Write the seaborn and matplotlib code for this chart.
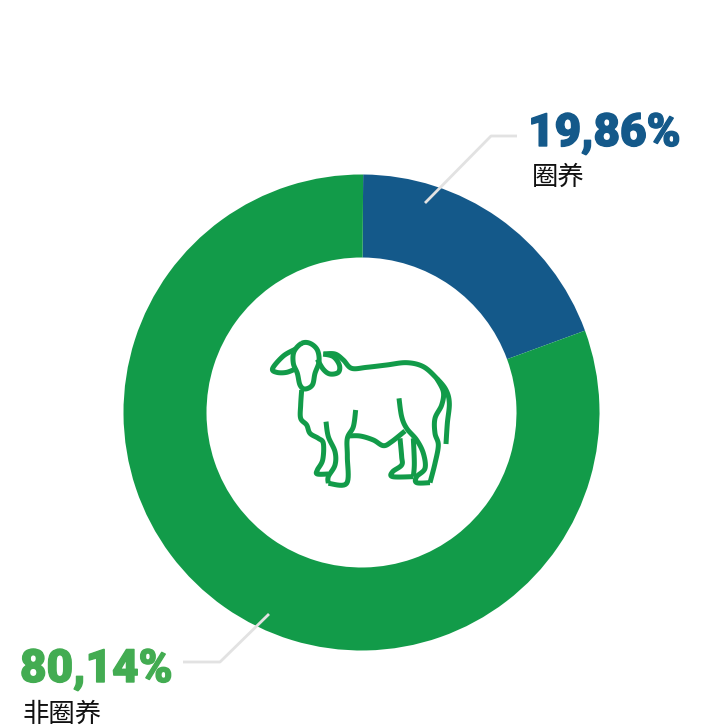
import numpy as np
import matplotlib
matplotlib.use("Agg")
import matplotlib.pyplot as plt
import matplotlib.patheffects as pe
import seaborn as sns

categories = ["圈养", "非圈养"]
values = [19.3, 80.7]  # shares as drawn in the picture
value_labels = ["19,86%", "80,14%"]
slice_colors = ["#14598A", "#129B49"]
label_colors = ["#14598A", "#43AC52"]

sns.set_theme(style="white")
plt.rcParams["font.family"] = ["Noto Sans CJK SC", "DejaVu Sans"]

fig = plt.figure(figsize=(7.02, 7.28), dpi=100)
ax = fig.add_axes([0, 0, 1, 1])
ax.pie(values, colors=sns.color_palette(slice_colors), startangle=-89.6, counterclock=True,
       center=(361.5, 412.5), radius=238, frame=False,
       wedgeprops=dict(width=83, linewidth=0))
ax.set_xlim(0, 702)
ax.set_ylim(728, 0)
ax.set_aspect("equal")
ax.axis("off")

# Leader lines
ax.plot([425, 491, 517], [203, 136, 136], color="#E2E2E2", lw=2, solid_capstyle="butt")
ax.plot([269, 220, 183], [614, 662, 662], color="#E2E2E2", lw=2, solid_capstyle="butt")

# Labels
big = dict(family="Roboto", fontweight="black", fontsize=33, va="baseline", ha="left")
ax.text(528, 146, value_labels[0], color=label_colors[0],
        path_effects=[pe.withStroke(linewidth=1.0, foreground=label_colors[0])], **big)
ax.text(20, 682, value_labels[1], color=label_colors[1],
        path_effects=[pe.withStroke(linewidth=1.0, foreground=label_colors[1])], **big)
ax.text(532, 177.5, categories[0], color="#111111", fontsize=19, va="center", ha="left")
ax.text(22, 714, categories[1], color="#111111", fontsize=19, va="center", ha="left")


# Decorative sheep icon (traced in zoomed reference coordinates)
def smooth(points, closed=False, n=10):
    p = np.array(points, float)
    if closed:
        p = np.vstack([p[-1], p, p[0], p[1]])
    else:
        p = np.vstack([p[0], p, p[-1]])
    out = []
    for i in range(1, len(p) - 2):
        for t in np.linspace(0, 1, n, endpoint=False):
            out.append(0.5 * ((2 * p[i]) + (-p[i - 1] + p[i + 1]) * t
                              + (2 * p[i - 1] - 5 * p[i] + 4 * p[i + 1] - p[i + 2]) * t ** 2
                              + (-p[i - 1] + 3 * p[i] - 3 * p[i + 1] + p[i + 2]) * t ** 3))
    out.append(p[-2])
    return np.array(out)


sheep = [
    ([(125, 40), (150, 40), (172, 60), (177, 95), (165, 130), (157, 165), (135, 177), (120, 165), (112, 130), (100, 100), (102, 65)], True),
    ([(105, 58), (70, 78), (38, 115), (50, 127), (80, 127), (110, 115)], False),
    ([(172, 88), (190, 118), (210, 132), (235, 127), (238, 105), (220, 80), (190, 72)], False),
    ([(190, 72), (225, 72), (250, 90), (275, 115), (320, 112), (380, 105), (440, 98), (490, 110), (530, 145), (558, 180), (568, 220), (562, 280), (558, 342)], False),
    ([(530, 145), (550, 185), (545, 225), (525, 265), (525, 310), (535, 345), (525, 400), (510, 458)], False),
    ([(510, 458), (470, 458), (470, 440), (495, 415), (490, 370), (470, 330), (440, 295), (425, 260), (417, 205)], False),
    ([(125, 180), (122, 225), (122, 265), (140, 285), (150, 310), (175, 325), (190, 340), (188, 390), (172, 420), (172, 432), (205, 432)], False),
    ([(198, 275), (205, 320), (225, 365), (225, 405), (205, 440), (205, 460)], False),
    ([(205, 460), (260, 460), (262, 380), (262, 325), (280, 290), (287, 240)], False),
    ([(262, 318), (300, 318), (340, 330), (370, 347), (395, 335), (435, 303)], False),
    ([(420, 325), (425, 380), (425, 405), (398, 425), (398, 440), (460, 440)], False),
    ([(460, 325), (463, 400), (460, 440)], False),
]
for pts, closed in sheep:
    xy = smooth(pts, closed)
    ax.plot(xy[:, 0] / 3 + 260, xy[:, 1] / 3 + 330, color=slice_colors[1], lw=3.6,
            solid_capstyle="butt", solid_joinstyle="round")

fig.savefig("out.png", dpi=100, facecolor="white")
